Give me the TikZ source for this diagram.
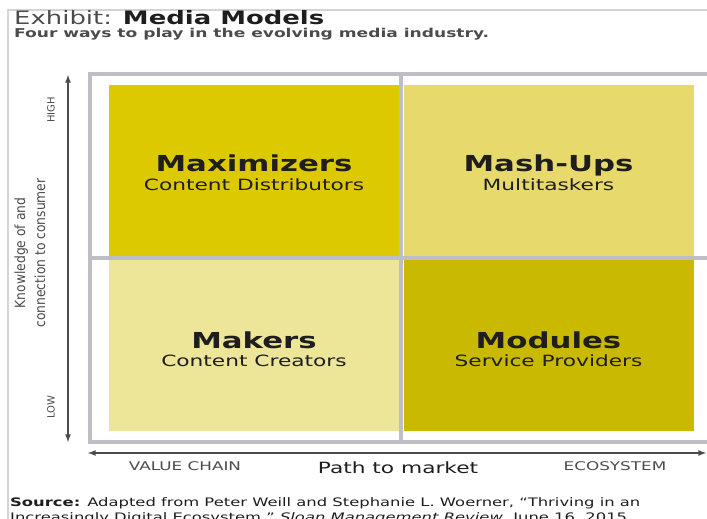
\documentclass[tikz,border=0pt]{standalone}
\usepackage{fontspec}
\setmainfont{DejaVu Sans}
\newfontfamily\widefont[FakeStretch=1.4]{DejaVu Sans}
\newfontfamily\narrowfont[FakeStretch=0.88]{DejaVu Sans}
\usepackage{xcolor}
\usepackage{tikz}
\usetikzlibrary{shapes,arrows,positioning,calc}

\definecolor{maxyellow}{RGB}{221,201,0}
\definecolor{mashyellow}{RGB}{232,217,108}
\definecolor{makeyellow}{RGB}{237,229,151}
\definecolor{modyellow}{RGB}{201,185,0}
\definecolor{framegray}{RGB}{190,190,198}
\definecolor{pagegray}{RGB}{212,212,212}
\definecolor{axisgray}{RGB}{75,75,75}
\definecolor{inkdark}{RGB}{30,30,30}

\begin{document}
\begin{tikzpicture}[x=1pt, y=-1pt,
    quad/.style={rectangle, inner sep=0pt, minimum width=290pt, minimum height=171pt},
    qname/.style={anchor=base, inner sep=0pt, text=inkdark, font=\widefont\bfseries\fontsize{22}{24}\selectfont},
    qsub/.style={anchor=base, inner sep=0pt, text=inkdark, font=\widefont\fontsize{15.5}{18}\selectfont},
    ticklabel/.style={text=axisgray, inner sep=0pt, font=\widefont\fontsize{12}{14}\selectfont},
    axisarrow/.style={<->, >=latex, line width=1.6pt, draw=axisgray}]

    \useasboundingbox (0,0) rectangle (707,519);
    \clip (0,0) rectangle (707,519);

    % page edge
    \draw[pagegray, line width=1.5pt] (8,519) -- (8,10) -- (707,10);

    % heading
    \node[anchor=base west, inner sep=0pt, text=inkdark, font=\widefont\fontsize{18.5}{20}\selectfont] (title) at (14,25)
        {{\color{axisgray}Exhibit:} \textbf{Media Models}};
    \node[anchor=base west, inner sep=0pt, text=axisgray, font=\widefont\bfseries\fontsize{12.2}{14}\selectfont] (subtitle) at (14,38)
        {Four ways to play in the evolving media industry.};

    % quadrants
    \node[quad, fill=maxyellow] (maxi) at (254,170.5) {};
    \node[quad, fill=mashyellow] (mash) at (548.5,170.5) {};
    \node[quad, fill=makeyellow] (make) at (254,345.5) {};
    \node[quad, fill=modyellow] (modu) at (548.5,345.5) {};

    % frame and dividers
    \draw[framegray, line width=4pt] (90,74) rectangle (716,442);
    \draw[framegray, line width=4.5pt] (401,74) -- (401,442);
    \draw[framegray, line width=4pt] (90,258) -- (716,258);

    \node[qname] (maxin) at ([yshift=-1pt]maxi.center) {Maximizers};
    \node[qsub] (maxis) at ([yshift=-18.5pt]maxin.base) {Content Distributors};
    \node[qname] (mashn) at ([yshift=-1pt]mash.center) {Mash-Ups};
    \node[qsub] (mashs) at ([yshift=-18.5pt]mashn.base) {Multitaskers};
    \node[qname] (maken) at ([yshift=-2.5pt]make.center) {Makers};
    \node[qsub] (makes) at ([yshift=-18.5pt]maken.base) {Content Creators};
    \node[qname] (modun) at ([yshift=-2.5pt]modu.center) {Modules};
    \node[qsub] (modus) at ([yshift=-18.5pt]modun.base) {Service Providers};

    % axes
    \coordinate (vtop) at (68,75);
    \coordinate (vbot) at (68,442);
    \coordinate (hleft) at (88,453);
    \coordinate (hright) at (706,453);
    \draw[axisarrow] (vbot) -- (vtop);
    \draw[axisarrow] (hleft) -- (hright);

    \node[rotate=90, text=axisgray, font=\fontsize{10}{12}\selectfont] (high) at (51,110) {HIGH};
    \node[rotate=90, text=axisgray, font=\fontsize{10}{12}\selectfont] (low) at (51,407) {LOW};
    \node[rotate=90, align=center, text=axisgray, font=\narrowfont\fontsize{14}{20}\selectfont] (knowl) at (30,253)
        {Knowledge of and\\connection to consumer};

    \node[ticklabel] (vchain) at (185,466) {VALUE CHAIN};
    \node[ticklabel, text=inkdark, font=\widefont\fontsize{15.5}{18}\selectfont] (path) at (398,468) {Path to market};
    \node[ticklabel] (ecosys) at (615,466) {ECOSYSTEM};

    % source note
    \node[anchor=base west, align=left, inner sep=0pt, text=inkdark, font=\widefont\fontsize{11.7}{15}\selectfont] (source) at (10,521)
        {\textbf{Source:} Adapted from Peter Weill and Stephanie L. Woerner, “Thriving in an\\
         Increasingly Digital Ecosystem,” \textit{Sloan Management Review}, June 16, 2015.};
\end{tikzpicture}
\end{document}
